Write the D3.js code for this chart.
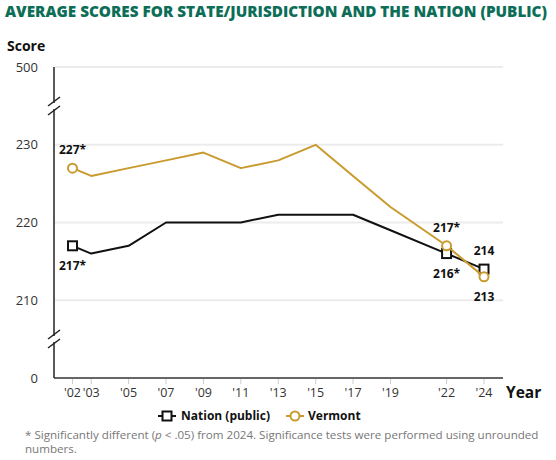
<!DOCTYPE html>
<html>
<head>
<meta charset="utf-8">
<script src="https://cdn.jsdelivr.net/npm/d3@7"></script>
<style>
  html, body { margin: 0; padding: 0; background: #fff; }
  svg { display: block; font-family: "Open Sans", "Noto Sans", sans-serif; }
</style>
</head>
<body>
<svg id="chart" width="556" height="460"></svg>
<script>
// ---- data ----
const years = [2002, 2003, 2005, 2007, 2009, 2011, 2013, 2015, 2017, 2019, 2022, 2024];
const tickLabels = ["'02", "'03", "'05", "'07", "'09", "'11", "'13", "'15", "'17", "'19", "'22", "'24"];
const nationScores = [217, 216, 217, 220, 220, 220, 221, 221, 221, 219, 216, 214];
const vermontScores = [227, 226, 227, 228, 229, 227, 228, 230, 226, 222, 217, 213];
const yTicks = [0, 210, 220, 230, 500];
const gridTicks = [210, 220, 230, 500];
const markedYears = [2002, 2022, 2024];
const nationLabels = [{ year: 2002, text: "217*", pos: "below" }, { year: 2022, text: "216*", pos: "below" }, { year: 2024, text: "214", pos: "above" }];
const vermontLabels = [{ year: 2002, text: "227*", pos: "above" }, { year: 2022, text: "217*", pos: "above" }, { year: 2024, text: "213", pos: "below" }];
const seriesNames = ["Nation (public)", "Vermont"];

// ---- layout ----
const svg = d3.select("#chart");
const gold = "#c99a2e";
const green = "#0d6e58";
const axisX = 54, plotRight = 503, axisBottom = 378, axisTop = 67;

const x = d3.scaleLinear().domain([2002, 2024]).range([72.5, 484]);
// broken (piecewise) scale
const y = d3.scaleLinear().domain([0, 205, 235, 500]).range([axisBottom, 339, 106, axisTop]);

// title
svg.append("text")
  .attr("x", 5).attr("y", 17)
  .attr("font-weight", 800).attr("font-size", 15)
  .attr("fill", green)
  .attr("textLength", 542).attr("lengthAdjust", "spacingAndGlyphs")
  .text("AVERAGE SCORES FOR STATE/JURISDICTION AND THE NATION (PUBLIC)");

// y label
svg.append("text").attr("x", 7).attr("y", 51)
  .attr("font-weight", 700).attr("font-size", 14).attr("fill", "#111").text("Score");

// gridlines
svg.append("g").selectAll("line").data(gridTicks).join("line")
  .attr("x1", axisX + 1).attr("x2", plotRight)
  .attr("y1", d => y(d)).attr("y2", d => y(d))
  .attr("stroke", "#ececec").attr("stroke-width", 2);

// y tick labels
svg.append("g").selectAll("text").data(yTicks).join("text")
  .attr("x", 38).attr("y", d => y(d)).attr("dy", "0.35em")
  .attr("text-anchor", "end").attr("font-size", 13).attr("fill", "#333")
  .text(d => d);

// y axis line with breaks
const breaks = [235, 205];
const gap = 3;
svg.append("line").attr("x1", axisX).attr("x2", axisX)
  .attr("y1", y(500)).attr("y2", y(235) - gap).attr("stroke", "#222").attr("stroke-width", 1.5);
svg.append("line").attr("x1", axisX).attr("x2", axisX)
  .attr("y1", y(235) + gap).attr("y2", y(205) - gap).attr("stroke", "#222").attr("stroke-width", 1.5);
svg.append("line").attr("x1", axisX).attr("x2", axisX)
  .attr("y1", y(205) + gap).attr("y2", y(0)).attr("stroke", "#222").attr("stroke-width", 1.5);
breaks.forEach(b => {
  const cy = y(b);
  [-4.5, 4.5].forEach(off => {
    svg.append("line")
      .attr("x1", axisX - 6).attr("y1", cy + off + 4.5)
      .attr("x2", axisX + 6).attr("y2", cy + off - 4.5)
      .attr("stroke", "#222").attr("stroke-width", 1.5);
  });
});

// x axis
svg.append("line").attr("x1", axisX).attr("x2", plotRight)
  .attr("y1", axisBottom).attr("y2", axisBottom).attr("stroke", "#333").attr("stroke-width", 1.5);
svg.append("g").selectAll("line").data(years).join("line")
  .attr("x1", d => x(d)).attr("x2", d => x(d))
  .attr("y1", axisBottom + 1).attr("y2", axisBottom + 6)
  .attr("stroke", "#ccc").attr("stroke-width", 1);
svg.append("g").selectAll("text").data(years).join("text")
  .attr("x", d => x(d)).attr("y", 393).attr("dy", "0.35em")
  .attr("text-anchor", "middle").attr("font-size", 12.5).attr("fill", "#333")
  .text((d, i) => tickLabels[i]);
svg.append("text").attr("x", 506).attr("y", 393).attr("dy", "0.35em")
  .attr("font-weight", 700).attr("font-size", 15.5).attr("fill", "#111").text("Year");

// lines
const line = d3.line().x(d => x(d.year)).y(d => y(d.value));
const nationData = years.map((yr, i) => ({ year: yr, value: nationScores[i] }));
const vermontData = years.map((yr, i) => ({ year: yr, value: vermontScores[i] }));

svg.append("path").datum(nationData).attr("d", line)
  .attr("fill", "none").attr("stroke", "#111").attr("stroke-width", 2).attr("stroke-linejoin", "round");
svg.append("g").selectAll("rect").data(nationData.filter(d => markedYears.includes(d.year))).join("rect")
  .attr("x", d => x(d.year) - 4.5).attr("y", d => y(d.value) - 4.5)
  .attr("width", 9).attr("height", 9)
  .attr("fill", "#fff").attr("stroke", "#111").attr("stroke-width", 2);

svg.append("path").datum(vermontData).attr("d", line)
  .attr("fill", "none").attr("stroke", gold).attr("stroke-width", 2).attr("stroke-linejoin", "round");
svg.append("g").selectAll("circle").data(vermontData.filter(d => markedYears.includes(d.year))).join("circle")
  .attr("cx", d => x(d.year)).attr("cy", d => y(d.value)).attr("r", 4.5)
  .attr("fill", "#fff").attr("stroke", gold).attr("stroke-width", 2);

// data labels
function addLabels(labels, scores) {
  svg.append("g").selectAll("text").data(labels).join("text")
    .attr("x", d => x(d.year))
    .attr("y", d => y(scores[years.indexOf(d.year)]) + (d.pos === "above" ? -18 : 20))
    .attr("dy", "0.35em")
    .attr("text-anchor", "middle").attr("font-weight", 700).attr("font-size", 12).attr("fill", "#111")
    .text(d => d.text);
}
addLabels(nationLabels, nationScores);
addLabels(vermontLabels, vermontScores);

// legend
const legY = 416;
const leg = svg.append("g");
leg.append("line").attr("x1", 158).attr("x2", 176).attr("y1", legY).attr("y2", legY).attr("stroke", "#111").attr("stroke-width", 2);
leg.append("rect").attr("x", 162.5).attr("y", legY - 4.5).attr("width", 9).attr("height", 9)
  .attr("fill", "#fff").attr("stroke", "#111").attr("stroke-width", 2);
leg.append("text").attr("x", 181).attr("y", legY).attr("dy", "0.35em")
  .attr("font-weight", 700).attr("font-size", 12).attr("fill", "#111").text(seriesNames[0]);
leg.append("line").attr("x1", 286).attr("x2", 304).attr("y1", legY).attr("y2", legY).attr("stroke", gold).attr("stroke-width", 2);
leg.append("circle").attr("cx", 295).attr("cy", legY).attr("r", 4.5)
  .attr("fill", "#fff").attr("stroke", gold).attr("stroke-width", 2);
leg.append("text").attr("x", 308).attr("y", legY).attr("dy", "0.35em")
  .attr("font-weight", 700).attr("font-size", 12).attr("fill", "#111").text(seriesNames[1]);

// footnote
const fn = svg.append("text").attr("x", 25).attr("y", 439).attr("font-size", 11.6).attr("fill", "#777");
fn.append("tspan").text("*  Significantly different (");
fn.append("tspan").attr("font-style", "italic").text("p");
fn.append("tspan").text(" < .05) from 2024. Significance tests were performed using unrounded");
svg.append("text").attr("x", 25).attr("y", 453).attr("font-size", 11.6).attr("fill", "#777").text("numbers.");
</script>
</body>
</html>
